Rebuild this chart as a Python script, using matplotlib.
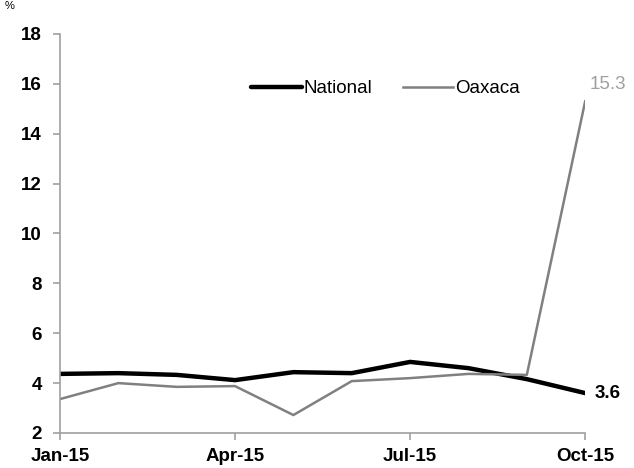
import matplotlib.pyplot as plt

plt.rcParams['font.family'] = ['Liberation Sans', 'DejaVu Sans']

months = ['Jan-15', 'Feb-15', 'Mar-15', 'Apr-15', 'May-15', 'Jun-15',
          'Jul-15', 'Aug-15', 'Sep-15', 'Oct-15']
national = [4.37, 4.40, 4.33, 4.12, 4.44, 4.40, 4.85, 4.60, 4.16, 3.6]
oaxaca = [3.36, 4.00, 3.85, 3.88, 2.72, 4.08, 4.20, 4.37, 4.33, 15.3]

x = list(range(len(months)))

fig = plt.figure(figsize=(6.34, 4.68), dpi=100)
ax = fig.add_axes([0.0946, 0.0748, 0.8284, 0.8526])

# lines
ax.plot(x, national, color='black', lw=3.2, solid_capstyle='round', label='National')
ax.plot(x, oaxaca, color='#808080', lw=1.8, label='Oaxaca')

ax.set_xlim(0, 9)
ax.set_ylim(2, 18)
ax.set_yticks(range(2, 19, 2))
ax.set_xticks([0, 3, 6, 9])
ax.set_xticklabels([months[i] for i in [0, 3, 6, 9]])

for s in ['top', 'right']:
    ax.spines[s].set_visible(False)
for s in ['left', 'bottom']:
    ax.spines[s].set_color('#a0a0a0')
    ax.spines[s].set_linewidth(1.2)
ax.tick_params(axis='both', colors='#a0a0a0', width=1.2, length=5)
for lab in ax.get_xticklabels() + ax.get_yticklabels():
    lab.set_color('black')
    lab.set_fontweight('bold')
    lab.set_fontsize(13.5)
ax.tick_params(axis='x', pad=6)
ax.tick_params(axis='y', pad=8)

# end labels
ax.annotate('15.3', (9, oaxaca[-1]), xytext=(3, 6), textcoords='offset points',
            color='#a0a0a0', fontsize=13.5, ha='left', va='bottom')
ax.annotate('3.6', (9, national[-1]), xytext=(7, 0), textcoords='offset points',
            color='black', fontsize=13.5, fontweight='bold', ha='left', va='center')

fig.text(0.008, 0.998, '%', fontsize=8, ha='left', va='top')

ax.legend(loc='center', bbox_to_anchor=(0.62, 0.8625), ncol=2, frameon=False,
          fontsize=13.5, handlelength=2.7, handletextpad=0.1, columnspacing=1.6)

fig.savefig('out.png', dpi=100)
